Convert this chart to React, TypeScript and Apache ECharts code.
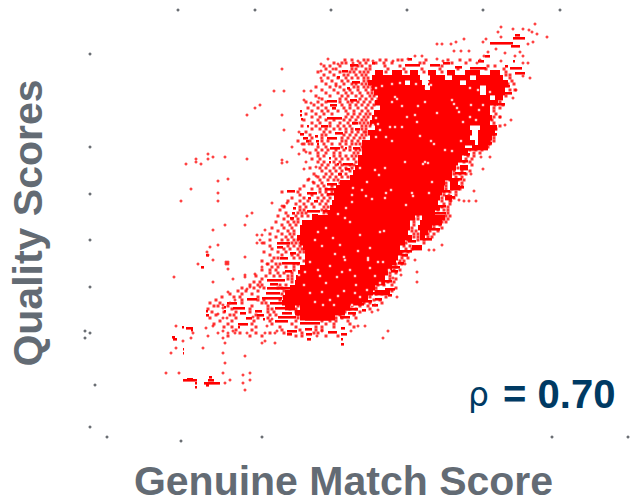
import React, { useEffect, useRef } from "react";
import * as echarts from "echarts";

// Score readings. Axes are unlabelled in the source, so values use its plot scale.
// Solid runs of the dense cloud: [y, xStart, xEnd]
const denseRuns: number[][] = [
  [70,375,383],[70,392,402],[70,410,418],[70,428,436],[70,447,455],[70,465,480],[70,490,500],
  [75,372,420],[75,430,445],[75,452,470],[75,476,503],
  [80,368,405],[80,410,422],[80,428,460],[80,466,508],
  [85,372,425],[85,430,480],[85,486,505],[90,374,480],[90,486,505],
  [95,378,490],[95,495,503],[100,375,498],[105,380,490],[110,374,490],[115,372,492],[120,370,490],
  [125,375,470],[125,480,497],[130,368,472],[130,478,495],[135,370,470],[135,478,492],
  [140,362,475],[140,478,490],[145,362,465],[145,472,488],[150,362,468],[155,358,462],[160,358,458],
  [165,355,456],[165,460,468],[170,353,452],[175,350,452],[180,340,445],[180,450,458],
  [185,336,444],[185,450,460],[190,334,442],[195,334,440],[195,445,452],[200,332,438],[205,330,440],
  [210,328,435],[215,312,415],[215,422,445],[220,302,410],[220,420,442],[225,300,410],[225,418,432],
  [230,300,408],[230,420,428],[235,297,412],[235,420,425],[240,300,405],[245,303,400],[245,412,422],
  [250,305,402],[255,305,398],[260,305,396],[265,300,392],[270,298,388],[275,296,385],[280,295,385],
  [285,290,375],[290,285,373],[290,375,390],[295,283,368],[300,282,362],
  [305,285,295],[305,300,350],[310,295,345],[315,300,335],
];
// Short clumps of the mottled zones: [y, xStart, xEnd]
const clumpRuns: number[][] = [
  [64,350,358],[70,342,348],[76,337,340],[81,352,360],[87,347,350],[99,350,357],[100,327,337],[104,330,337],[107,332,336],
  [110,300,302],[114,300,302],[118,301,303],[117,327,342],[122,352,358],[125,321,328],[125,307,309],[128,355,360],
  [132,335,343],[133,300,304],[137,327,337],[137,303,308],[140,306,309],[135,315,318],[140,316,319],[143,317,319],
  [147,330,340],[147,345,347],[147,353,360],[157,329,331],[161,329,331],[163,337,339],[163,343,353],[168,345,350],
  [173,338,342],[183,327,337],[188,325,338],[193,327,337],[190,287,295],[192,307,317],[197,308,311],[200,314,318],
  [207,293,296],[212,292,295],[217,290,294],[210,307,320],[214,312,318],[210,323,330],
  [62,372,375],[58,408,412],[64,430,440],[64,405,420],[66,455,462],[62,443,450],[67,470,486],[60,478,484],[55,485,490],
  [42,490,513],[37,513,525],[34,515,520],[45,511,520],[67,510,522],[72,515,525],[60,513,515],[65,505,508],
  [92,505,512],[85,500,510],[103,497,505],[133,490,497],[142,480,492],[172,455,466],[186,458,464],[196,448,455],
  [242,277,290],[246,277,283],[252,290,296],[257,280,288],[262,282,300],[270,285,292],[279,267,285],[283,270,278],
  [287,267,293],[292,266,280],[297,262,282],[302,270,283],[298,247,257],[302,227,237],[306,224,226],[310,224,226],
  [307,233,245],[312,240,246],[317,246,252],[323,238,248],[326,238,240],[310,255,262],[314,257,264],[318,263,265],
  [307,275,285],[312,282,292],[316,278,296],[320,275,288],[308,300,345],[318,305,330],[322,300,320],[316,340,350],
  [330,287,297],[333,287,292],[328,305,312],[333,306,312],[338,307,311],[331,328,337],[327,341,345],[333,341,347],
  [338,341,343],[343,341,344],[303,358,364],[309,362,366],[312,348,356],[304,372,378],[298,375,382],[294,388,392],
  [288,385,395],[270,391,398],[262,398,404],[254,402,408],[240,408,416],
  [326,182,184],[327,186,193],[329,191,193],[336,172,175],[338,173,177],[348,183,184],[352,183,184],
  [379,183,197],[378,187,193],[382,195,197],[386,195,197],[382,204,220],[379,208,214],[376,209,212],[384,206,209],
  [310,206,208],[314,206,209],[266,201,204],[254,206,209],
  [148,462,476],[153,464,470],[160,458,468],[178,452,462],[190,442,450],[205,440,446],[212,435,446],
  [228,432,440],[238,425,432],[250,402,412],[266,392,400],[280,385,392],[292,372,384],[300,362,372],[308,345,358],
];
// Mottled readings by row: [y, x, x, x, ...]
const mottledRows: number[][] = [
  [60,345,352,364,368,380,386,398,402,426,448,460,470],
  [63,334,342,346,360,366,376,384,392,420,424,452,466],
  [66,324,330,340,352,358,362,370,385,400,442,488,495],
  [69,326,336,352,356,366,370,388,404,422,440,458,486,504],
  [72,318,330,340,350,354,360,364,368,386,406,424,442,506],
  [75,324,334,344,348,356,362,366,506,510],
  [78,328,338,346,352,358,364,368,510],
  [81,322,332,342,348,364,368,512],
  [84,326,336,344,352,356,362,366,370,508,514],
  [87,316,330,340,354,358,364,368,372],
  [90,322,334,344,350,358,366,372,510,515],
  [93,326,338,346,352,360,368,372],
  [96,316,330,342,348,356,362,370,374,506],
  [99,322,340,346,360,366,372,378],
  [102,306,318,326,340,348,352,358,364,370,376,500],
  [105,314,322,342,350,356,362,368,374,495,503],
  [108,308,318,326,344,350,358,366,372,494,500],
  [111,312,322,328,338,346,354,362,368,494],
  [114,306,316,324,332,348,354,360,366,370,496],
  [117,312,320,346,352,358,364,368,494,500],
  [120,304,318,326,334,344,350,356,362,366,492],
  [123,312,320,330,340,348,354,360,364,368,494],
  [126,302,316,330,338,344,350,362,366,370,494,500],
  [129,312,320,326,334,340,346,352,362,366,496],
  [132,306,324,330,346,352,358,364,366],
  [135,310,322,326,344,350,356,362,366,494],
  [138,312,322,342,348,354,360,364,494],
  [141,298,310,322,328,342,346,352,358,494,490],
  [144,304,312,324,332,340,346,352,356,360,490],
  [147,318,326,342,350,362,488],
  [150,304,316,322,328,336,344,350,356,360,470,476,482],
  [153,310,318,326,334,340,354,358,474,480],
  [156,318,324,334,340,346,352,356,468,474],
  [159,312,320,336,342,348,354,466,472],
  [162,318,324,334,340,356,464,470],
  [165,322,328,336,342,350,354,472],
  [168,310,320,326,334,340,346,352,458,464],
  [171,322,330,336,342,350,454,462,470],
  [174,314,326,332,340,346,454,460,466],
  [177,318,324,330,336,342,348,456,462],
  [180,308,320,328,334,338,450,458,464],
  [183,314,322,340,446,452,462],
  [186,304,318,324,332,446,456,462],
  [189,300,312,320,326,332,446,452,460],
  [192,282,298,320,326,332,444,450,456],
  [195,300,312,322,328,444,456],
  [198,292,304,318,324,330,442,448,454],
  [201,288,300,308,322,328,442,450],
  [204,296,304,312,320,326,444,450],
  [207,284,300,306,314,324,328,442,448],
  [210,280,300,304,322,326,438,444,448],
  [213,286,298,302,306,324,328,418,448],
  [216,278,288,296,302,308,418,446,450],
  [219,284,292,298,414,418,444,448],
  [222,276,288,294,298,414,442,446],
  [225,282,290,296,414,434,440],
  [228,272,284,292,412,434,442],
  [231,278,288,294,412,416,430,438],
  [234,270,282,290,294,414,418,428,434],
  [237,276,286,292,414,418,428,432],
  [240,270,282,288,294,298,408,418,424],
  [243,264,292,296,300,406,424],
  [246,270,288,294,300,404,410],
  [249,272,284,290,298,302,406,412],
  [252,264,278,286,300,304,402,408],
  [255,270,282,292,298,402,406],
  [258,274,278,294,300,402,408],
  [261,262,272,304,400,404],
  [264,268,276,280,294,298,396,402],
  [267,272,278,286,294,396],
  [270,262,270,276,294,394,400],
  [273,270,278,284,292,390,396],
  [276,256,266,274,280,288,292,390],
  [279,262,288,292,390,396],
  [282,254,260,292,388,394],
  [285,250,258,262,280,286,378,384,392],
  [288,242,254,264,278,282,376,396],
  [291,238,246,258,284,376,392],
  [294,230,242,252,282,370,376,382],
  [297,222,234,240,258,284,370,386],
  [300,216,242,258,264,280,364,374,380],
  [303,210,220,242,262,266,284,364,370,382],
  [306,214,218,228,252,268,290,298,352,360,368],
  [309,208,232,250,268,272,290,296,350,356,370],
  [312,212,224,236,250,268,274,296,345,360],
  [315,216,230,234,256,270,276,298,340,354],
  [318,210,236,258,268,298,302,336,342,356],
  [321,220,232,254,270,296,322,330,336,348],
  [324,214,228,252,272,292,326,334,350],
  [327,224,232,256,280,296,316,322,334,354],
  [330,236,252,282,300,316,322],
  [333,240,256,270,284,302,314,318],
  [336,228,250,262,296,302,326,338],
];
// Single isolated readings: [x, y]
const singleDots: number[][] = [
  [328,59],[321,64],[338,64],[321,71],[333,69],[282,69],[321,78],[336,86],[274,91],[284,91],[304,91],[311,91],
  [319,98],[304,100],[311,103],[260,105],[255,108],[247,115],[282,115],[284,130],[292,147],[299,132],[299,154],
  [306,152],[302,144],[309,144],[225,157],[213,157],[208,154],[208,159],[196,159],[196,162],[201,164],[186,164],
  [247,159],[282,160],[282,163],[287,162],[306,162],[304,169],[316,167],[316,176],[309,179],[313,182],[228,179],
  [218,181],[191,189],[218,193],[181,201],[218,201],[272,203],[287,203],[282,206],[284,206],[252,213],[247,216],
  [213,230],[225,225],[245,225],[218,245],[210,247],[207,252],[208,255],[213,260],[198,264],[226,262],[228,262],
  [226,264],[228,264],[228,269],[174,277],[213,282],[233,279],[245,275],[245,277],[255,274],[262,267],[267,264],
  [245,257],[257,235],[262,235],[265,230],[257,243],[262,243],[260,240],[228,292],[250,287],[247,289],[260,287],
  [223,305],[223,308],[230,303],[235,300],[218,314],[223,318],[227,318],[253,317],[272,319],[267,326],
  [176,326],[193,333],[206,328],[213,326],[191,338],[183,341],[208,336],[176,348],[171,353],[203,348],
  [218,333],[223,331],[228,333],[233,331],[235,333],[223,338],[225,343],[247,333],[223,353],[245,356],[225,363],
  [262,343],[265,341],[265,333],[275,333],[277,331],[275,343],[166,373],[179,373],[223,373],[225,383],[230,380],
  [243,375],[250,373],[243,383],[250,380],[245,390],[317,336],[322,331],[351,331],[358,326],[365,326],[388,331],[383,338],
  [442,245],[429,250],[434,250],[415,260],[417,272],[417,282],[397,297],[405,264],[401,275],[393,278],[378,310],[372,312],[375,305],
  [535,24],[501,27],[513,29],[523,29],[532,32],[529,30],[537,34],[547,37],[498,32],[501,37],[528,44],[533,42],[520,52],
  [483,42],[486,39],[496,49],[437,44],[442,44],[451,44],[456,42],[464,39],[454,51],[461,51],[469,51],[505,53],[488,52],
  [484,56],[480,60],[477,63],[523,56],[515,56],[523,63],[528,63],[523,76],[530,78],[501,61],[358,61],[353,63],[373,61],
  [393,61],[415,56],[422,56],[408,59],[437,59],[443,61],[513,98],[516,90],[511,120],[505,125],[500,117],[490,157],[481,157],
  [483,169],[471,174],[474,191],[476,201],[469,201],[464,201],[459,200],[451,201],[449,195],
];
// White gaps left inside the dense cloud: [x, y]
const gapDots: number[][] = [
  [392,84],[400,83],[428,82],[431,85],[426,88],[416,84],[376,88],[382,86],[395,97],[392,102],[397,99],[425,102],
  [452,100],[454,104],[457,108],[459,112],[470,88],[478,90],[490,92],[483,105],[479,110],[471,105],[402,106],
  [418,106],[407,117],[415,115],[437,113],[417,122],[390,127],[395,127],[402,127],[376,118],[378,124],[373,125],
  [380,130],[376,137],[386,137],[392,141],[420,136],[431,141],[434,144],[478,128],[476,120],[463,122],[470,117],
  [461,141],[452,151],[445,150],[425,162],[423,164],[428,163],[405,162],[385,168],[375,170],[367,182],[360,168],
  [379,175],[391,190],[386,193],[385,198],[362,190],[366,196],[372,199],[353,188],[352,195],[346,208],[352,202],
  [432,182],[412,193],[413,196],[429,193],[406,205],[350,222],[338,214],[345,218],[318,232],[326,228],[315,240],
  [340,245],[333,238],[322,246],[335,254],[345,260],[344,257],[358,251],[370,248],[368,258],[384,231],[368,260],
  [380,232],[360,235],[342,272],[330,266],[318,270],[310,262],[326,283],[320,276],[337,277],[350,270],[355,276],
  [378,262],[370,268],[375,276],[367,290],[356,285],[344,291],[338,296],[330,300],[315,302],[304,285],[310,293],
  [322,292],[299,275],[305,272],[323,305],[334,305],[352,305],[360,297],[355,293],[383,262],[389,270],[380,283],
];
// Small dark specks around the plot: [x, y]
const frameSpecks: number[][] = [
  [178,10],[255,10],[331,10],[407,10],[483,10],[560,10],[90,54],[90,147],[90,194],[90,240],[90,287],[85,331],
  [90,333],[85,338],[95,385],[90,427],[107,437],[181,441],[262,437],[552,437],[628,437],
];
const xTitle = "Genuine Match Score";
const yTitle = "Quality Scores";
const rhoSymbol = "ρ";
const rhoValue = " = 0.70";

const mottledDots = mottledRows.flatMap(([y, ...xs]) => xs.map((x) => [x, y]));

const runSeries = (data: number[][], thickness: number) => ({
  type: "custom",
  silent: true,
  data,
  encode: { x: [1, 2], y: 0 },
  renderItem: (_: any, api: any) => {
    const a = api.coord([api.value(1), api.value(0)]);
    const b = api.coord([api.value(2), api.value(0)]);
    return {
      type: "rect",
      shape: { x: a[0], y: a[1], width: b[0] - a[0], height: thickness },
      style: { fill: "#ff0000" },
    };
  },
});

export default function App() {
  const ref = useRef<HTMLDivElement>(null);
  useEffect(() => {
    const chart = echarts.init(ref.current!, undefined, { renderer: "svg" });
    chart.setOption({
      animation: false,
      backgroundColor: "#ffffff",
      grid: { left: 57, right: 4, top: -10, bottom: 44, outerBoundsMode: "none" },
      xAxis: {
        type: "value", min: 57, max: 630, name: xTitle, nameLocation: "middle", nameGap: 7,
        nameTextStyle: { fontFamily: "Liberation Sans", fontWeight: "bold", fontSize: 41, lineHeight: 36, color: "#636b74" },
        axisLine: { show: false }, axisTick: { show: false }, axisLabel: { show: false }, splitLine: { show: false },
      },
      yAxis: {
        type: "value", min: -10, max: 456, inverse: true, name: yTitle, nameLocation: "middle", nameGap: 9,
        nameRotate: 90,
        nameTextStyle: { fontFamily: "Liberation Sans", fontWeight: "bold", fontSize: 41, color: "#636b74" },
        axisLine: { show: false }, axisTick: { show: false }, axisLabel: { show: false }, splitLine: { show: false },
      },
      graphic: [
        {
          type: "text", left: 468, top: 374,
          style: {
            text: `{a|${rhoSymbol}}{b|${rhoValue}}`,
            rich: {
              a: { fontFamily: "DejaVu Sans", fontSize: 33, fill: "#003a63", fontWeight: "normal", padding: [0, 3, 0, 0] },
              b: { fontFamily: "Liberation Sans", fontSize: 40, fill: "#003a63", fontWeight: "bold" },
            },
          },
        },
      ],
      series: [
        runSeries(denseRuns, 5.4),
        runSeries(clumpRuns, 2.6),
        { type: "scatter", silent: true, data: singleDots, symbol: "circle", symbolSize: 3, itemStyle: { color: "#ff1414" } },
        { type: "scatter", silent: true, data: mottledDots, symbol: "rect", symbolSize: 3, itemStyle: { color: "#ff0000" } },
        { type: "scatter", silent: true, data: gapDots, symbol: "rect", symbolSize: 2.4, itemStyle: { color: "#ffffff" }, z: 3 },
        { type: "scatter", silent: true, data: frameSpecks, symbol: "circle", symbolSize: 3, itemStyle: { color: "#454a50" } },
      ],
    });
    return () => chart.dispose();
  }, []);
  return <div ref={ref} style={{ width: 634, height: 500, position: "fixed", left: 0, top: 0 }} />;
}
